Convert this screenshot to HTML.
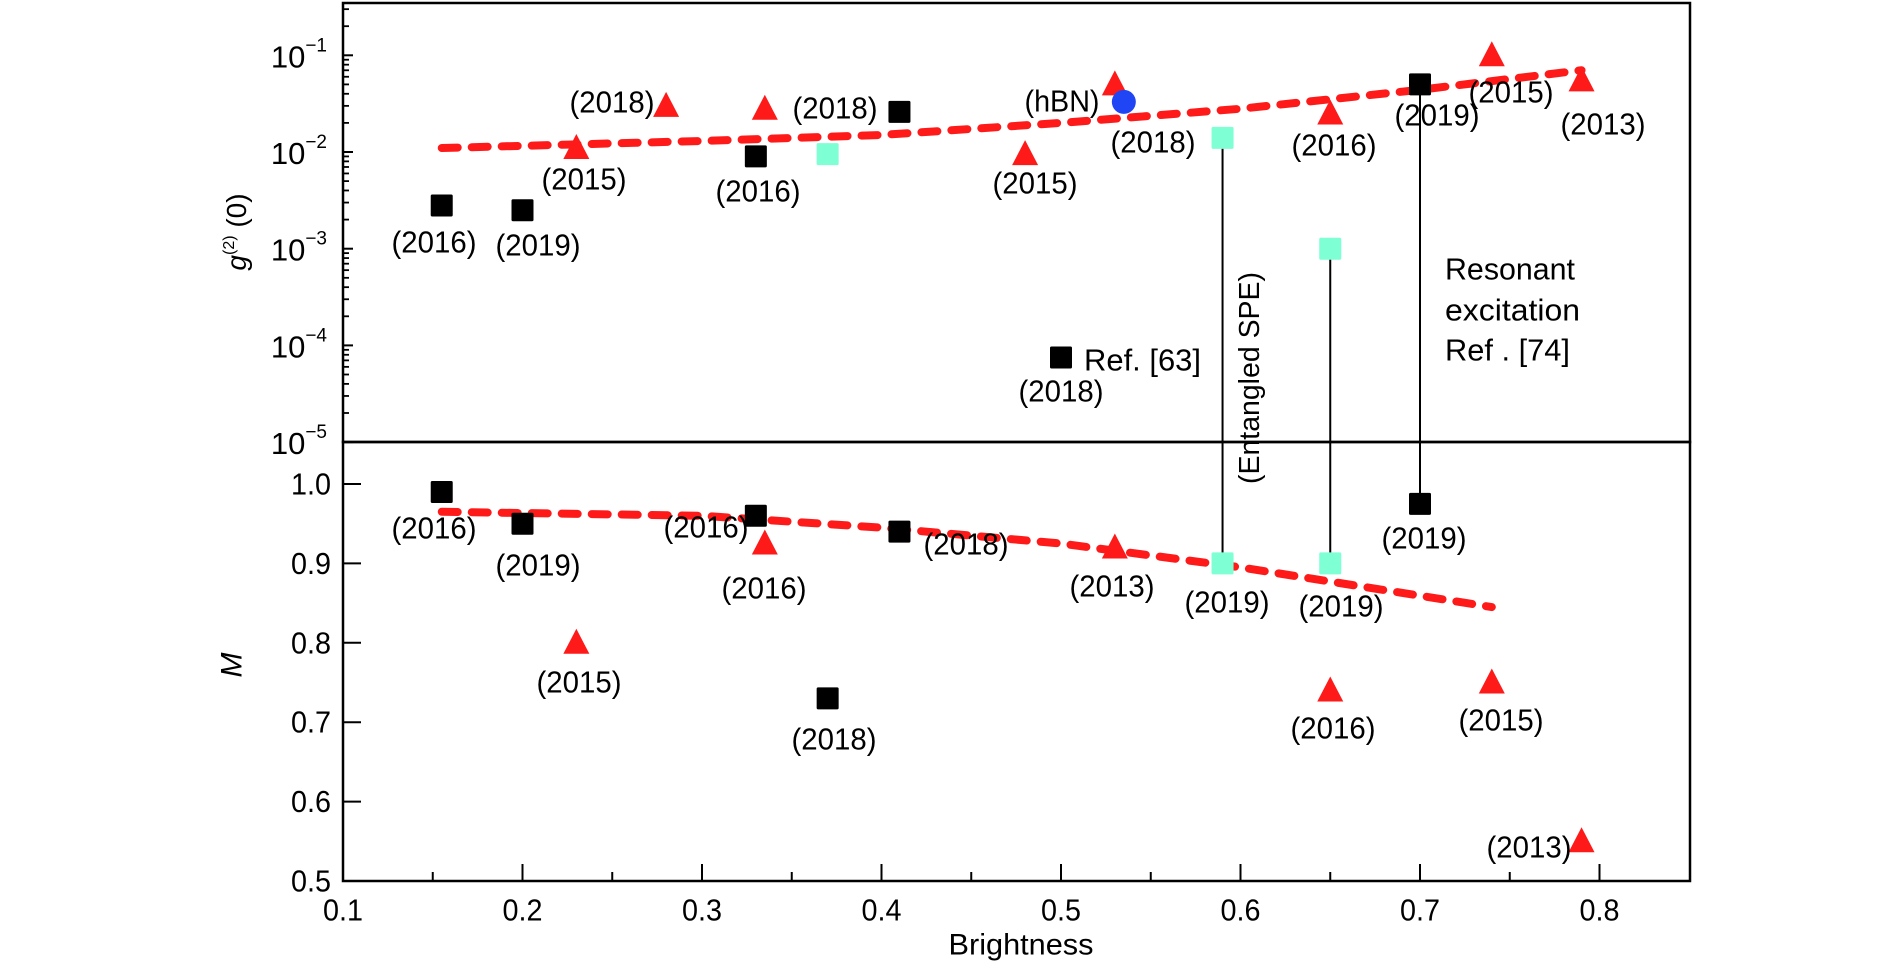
<!DOCTYPE html>
<html><head><meta charset="utf-8"><style>
html,body{margin:0;padding:0;background:#fff;}
svg{display:block;font-family:"Liberation Sans","DejaVu Sans",sans-serif;}
</style></head><body>
<svg id="chart" width="1890" height="964" viewBox="0 0 1890 964" xmlns="http://www.w3.org/2000/svg"></svg>
<script>
// ---- data ----
const topBlackX = [0.155, 0.2, 0.33, 0.41, 0.5, 0.7];
const topBlackY = [2.8e-3, 2.5e-3, 9e-3, 2.6e-2, 7.5e-5, 5e-2];
const topCyanX = [0.37, 0.59, 0.65];
const topCyanY = [9.5e-3, 1.4e-2, 1e-3];
const topRedX = [0.23, 0.28, 0.335, 0.48, 0.53, 0.65, 0.74, 0.79];
const topRedY = [1.1e-2, 3e-2, 2.8e-2, 9.5e-3, 5e-2, 2.5e-2, 1e-1, 5.5e-2];
const topBlueX = [0.535];
const topBlueY = [3.3e-2];
const topFitX = [0.155, 0.3, 0.4, 0.5, 0.6, 0.7, 0.79];
const topFitY = [1.1e-2, 1.3e-2, 1.5e-2, 2.0e-2, 2.8e-2, 4.4e-2, 7e-2];
const botBlackX = [0.155, 0.2, 0.33, 0.41, 0.37, 0.7];
const botBlackY = [0.99, 0.95, 0.96, 0.94, 0.73, 0.975];
const botCyanX = [0.59, 0.65];
const botCyanY = [0.9, 0.9];
const botRedX = [0.23, 0.335, 0.53, 0.65, 0.74, 0.79];
const botRedY = [0.8, 0.925, 0.92, 0.74, 0.75, 0.55];
const botFitX = [0.155, 0.3, 0.4, 0.5, 0.6, 0.74];
const botFitY = [0.965, 0.96, 0.945, 0.925, 0.895, 0.845];
const linkX = [0.59, 0.65, 0.7];
const linkTopY = [1.4e-2, 1e-3, 5e-2];
const linkBotY = [0.9, 0.9, 0.975];
const xTicks = [0.1, 0.2, 0.3, 0.4, 0.5, 0.6, 0.7, 0.8];
const xTickLabels = ["0.1","0.2","0.3","0.4","0.5","0.6","0.7","0.8"];
const topTickExp = [-1, -2, -3, -4, -5];
const botTicks = [1.0, 0.9, 0.8, 0.7, 0.6, 0.5];
const botTickLabels = ["1.0","0.9","0.8","0.7","0.6","0.5"];

// ---- axes ----
const L = 343, R = 1690, T = 3, MID = 442, B = 881;
const xs = v => L + (v - 0.1) / 0.1 * 179.5;
const yTop = v => 55.3 + (-1 - Math.log10(v)) * 96.7;
const yBot = v => 484 + (1.0 - v) / 0.1 * 79.4;

const NS = "http://www.w3.org/2000/svg";
const svg = document.getElementById("chart");
function mk(tag, attrs, parent) {
  const e = document.createElementNS(NS, tag);
  for (const k in attrs) e.setAttribute(k, attrs[k]);
  (parent || svg).appendChild(e);
  return e;
}
function txt(s, x, y, size, anchor, parent, len) {
  const t = mk("text", {x: x, y: y, "font-size": size, "text-anchor": anchor || "middle", "dominant-baseline": "central", fill: "#000"}, parent);
  if (len) { t.setAttribute("textLength", len); t.setAttribute("lengthAdjust", "spacingAndGlyphs"); }
  t.textContent = s;
  return t;
}

// frames
const frames = mk("g", {});


mk("rect", {x: L, y: T, width: R - L, height: MID - T, fill: "none", stroke: "#000", "stroke-width": 2.5}, frames);
mk("rect", {x: L, y: MID, width: R - L, height: B - MID, fill: "none", stroke: "#000", "stroke-width": 2.5}, frames);

// top y ticks
const topAxis = mk("g", {});


topTickExp.forEach(e => {
  const y = yTop(Math.pow(10, e));
  mk("line", {x1: L, x2: L + 10, y1: y, y2: y, stroke: "#000", "stroke-width": 2}, topAxis);
  const t = mk("text", {x: L - 16, y: y + 12, "font-size": 31, "text-anchor": "end", fill: "#000"}, topAxis);
  t.innerHTML = '10<tspan dy="-16" font-size="19">\u2212' + (-e) + '</tspan>';
});
for (let e = -5; e <= -1; e++) {
  for (let m = 2; m <= 9; m++) {
    const y = yTop(m * Math.pow(10, e));
    if (y < T + 2) continue;
    mk("line", {x1: L, x2: L + 6, y1: y, y2: y, stroke: "#000", "stroke-width": 1.8}, topAxis);
  }
}
const gl = mk("text", {x: 0, y: 0, "font-size": 28, "text-anchor": "middle", fill: "#000", transform: "translate(246,232) rotate(-90)"}, topAxis);
gl.innerHTML = '<tspan font-style="italic">g</tspan><tspan dy="-12" font-size="16">(2)</tspan><tspan dy="12"> (0)</tspan>';



// bottom y ticks
const botAxis = mk("g", {});


botTicks.forEach((v, i) => {
  const y = yBot(v);
  mk("line", {x1: L, x2: L + 18, y1: y, y2: y, stroke: "#000", "stroke-width": 2}, botAxis);
  txt(botTickLabels[i], L - 12, y, 31, "end", botAxis, 40);
});
const ml = mk("text", {x: 0, y: 0, "font-size": 30, "font-style": "italic", "text-anchor": "middle", "dominant-baseline": "central", fill: "#000", transform: "translate(232,665) rotate(-90)"}, botAxis);
ml.textContent = "M";



// x axis
const xAxis = mk("g", {});


xTicks.forEach((v, i) => {
  const x = xs(v);
  mk("line", {x1: x, x2: x, y1: B, y2: B - 17, stroke: "#000", "stroke-width": 2}, xAxis);
  txt(xTickLabels[i], x, 910, 31, "middle", xAxis, 40);
  const xm = xs(v + 0.05);
  if (xm < R - 2) mk("line", {x1: xm, x2: xm, y1: B, y2: B - 9, stroke: "#000", "stroke-width": 2}, xAxis);
});
const xl = txt("Brightness", 1021, 945, 30, "middle", xAxis, 145);



// connecting vertical lines
linkX.forEach((v, i) => {
  const l = mk("line", {x1: xs(v), x2: xs(v), y1: yTop(linkTopY[i]), y2: yBot(linkBotY[i]), stroke: "#000", "stroke-width": 2});
  
  
});

// fit lines
function fit(X, Y, yf, name) {
  const pts = X.map((v, i) => xs(v) + "," + yf(Y[i])).join(" ");
  const p = mk("polyline", {points: pts, fill: "none", stroke: "#ff1a1a", "stroke-width": 8, "stroke-dasharray": "16 14", "stroke-linecap": "round"});
  
  
}
fit(topFitX, topFitY, yTop, 'g2-trend-line');
fit(botFitX, botFitY, yBot, 'm-trend-line');

// markers
function squares(X, Y, yf, color, name) {
  X.forEach((v, i) => {
    const r = mk("rect", {x: xs(v) - 11, y: yf(Y[i]) - 11, width: 22, height: 22, fill: color, rx: 1.5});
    
    
  });
}
function tris(X, Y, yf, name) {
  X.forEach((v, i) => {
    const x = xs(v), y = yf(Y[i]);
    const p = mk("polygon", {points: `${x},${y - 14} ${x - 13},${y + 11} ${x + 13},${y + 11}`, fill: "#ff1a1a"});
    
    
  });
}
squares(topBlackX, topBlackY, yTop, "#000", 'g2-black-square');
squares(topCyanX, topCyanY, yTop, "#7fffd4", 'g2-cyan-square');
tris(topRedX, topRedY, yTop, 'g2-red-triangle');
topBlueX.forEach((v, i) => {
  const c = mk("ellipse", {cx: xs(v), cy: yTop(topBlueY[i]), rx: 12, ry: 12, fill: "#1f45f5"});
  
  
});
squares(botBlackX, botBlackY, yBot, "#000", 'm-black-square');
squares(botCyanX, botCyanY, yBot, "#7fffd4", 'm-cyan-square');
tris(botRedX, botRedY, yBot, 'm-red-triangle');

// annotations
const labels = [
  ["(2016)",434,242],["(2019)",538,245],["(2015)",584,179],["(2018)",612,102],["(2018)",835,108],
  ["(2016)",758,191],["(2015)",1035,183],["(hBN)",1062,101],["(2018)",1153,142],["(2018)",1061,391],
  ["(2016)",1334,145],["(2019)",1437,115],["(2015)",1511,92],["(2013)",1603,124],
  ["(2016)",434,528],["(2019)",538,565],["(2016)",706,527],["(2016)",764,588],["(2018)",966,544],
  ["(2015)",579,682],["(2018)",834,739],["(2013)",1112,586],["(2019)",1227,602],["(2019)",1341,606],
  ["(2019)",1424,538],["(2016)",1333,728],["(2015)",1501,720],["(2013)",1529,847]
];
const ann = mk("g", {});


labels.forEach(l => txt(l[0], l[1], l[2], 31, "middle", ann, l[0] === "(hBN)" ? 75 : 85));
const notes = mk("g", {});


txt("Ref. [63]", 1084, 360, 31, "start", notes, 117);
txt("Resonant", 1445, 269, 31, "start", notes, 130);
txt("excitation", 1445, 310, 31, "start", notes, 135);
txt("Ref . [74]", 1445, 350, 31, "start", notes, 125);
const ent = mk("text", {x: 0, y: 0, "font-size": 29, "text-anchor": "middle", "dominant-baseline": "central", fill: "#000", transform: "translate(1250,378) rotate(-90)", textLength: 212, lengthAdjust: "spacingAndGlyphs"}, notes);
ent.textContent = "(Entangled SPE)";
</script>
</body></html>
